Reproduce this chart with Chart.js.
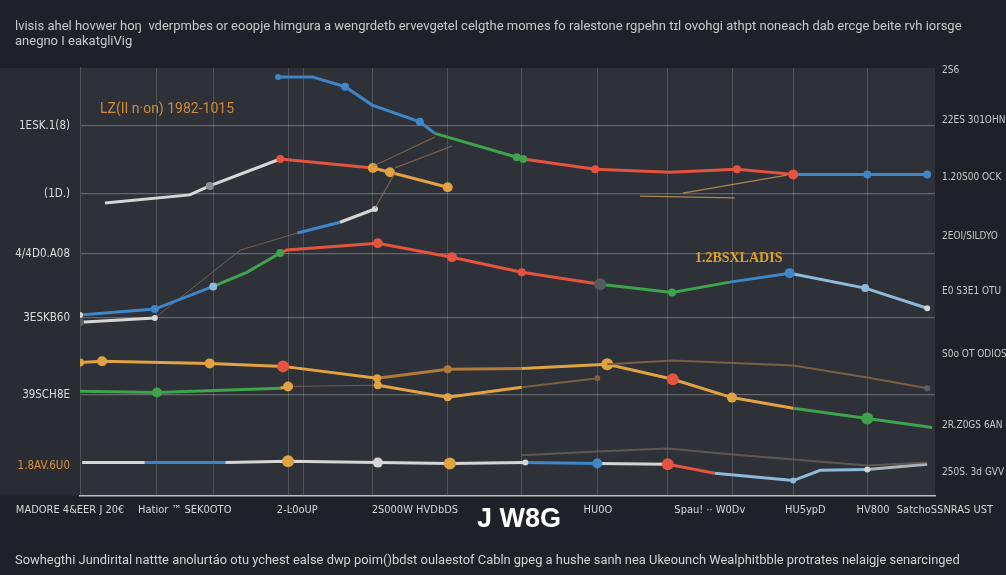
<!DOCTYPE html>
<html><head><meta charset="utf-8">
<script src="https://cdn.jsdelivr.net/npm/chart.js@4.4.1/dist/chart.umd.min.js"></script>
<style>html,body{margin:0;padding:0;background:#202128;}#wrap{width:1006px;height:575px;position:relative}</style>
</head><body><div id="wrap"><canvas id="c" width="1006" height="575"></canvas></div>
<script>
// ---- text ----
const titleLines = ["lvisis ahel hovwer hoŋ  vderpmbes or eoopje himgura a wengrdetb ervevgetel celgthe momes fo ralestone rgpehn tɪl ovohgi athpt noneach dab ercge beite rvh iorsge", "anegno I eakatgliVig"];
const footerText = "Sowhegthi Jundirital nattte anolurtáo otu ychest ealse dwp poim()bdst oulaestof Cabln gpeg a hushe sanh nea Ukeounch Wealphitbble protrates nelaigje senarcinged";
const noteLeft = "LZ(II n·on) 1982-1015";
const noteRight = "1.2BSXLADIS";
// ---- axes ----
const xTickValues = [0, 1.47, 3.05, 4.70, 6.16, 7.27, 8.84, 10.18, 11.13, 12];
const xTickLabels = ["MADORE 4&EER J 20€", "Hatior ™ SEK0OTO", "2-Ŀ0oUP", "2S000W HVDbDS", "J W8G", "HU0O", "Spau! ·· W0Dv", "HU5ypD", "HV800", "SatchoSSNRAS UST"];
const xGridValues = [1.08, 1.87, 2.92, 3.13, 4.11, 5.16, 6.20, 7.26, 8.25, 9.16, 10.01, 11.05];
const leftTickValues = [86.5, 70.5, 56.5, 41.5, 23.5, 7];
const leftTickLabels = ["1ESK.1(8)", "(1D.)", "4/4D0.A08", "3ESKB60", "39SCH8E", "1.8AV.6U0"];
const rightTickValues = [99.5, 87.8, 74.5, 60.7, 47.8, 33.0, 16.4, 5.4];
const rightTickLabels = ["2S6", "22ES 301OHN", "1.20S00 OCK", "2EOI/SILDYO", "E0 S3E1 OTU", "S0o OT ODIOS", "2R.Z0GS 6AN", "250S. 3d GVV"];
// ---- series ----
const aX = [2.78,3.26,3.72,4.10,4.77,4.98,6.13,6.22,7.23,8.28,9.22,10.01,11.05,11.89];
const aY = [97.9,97.9,95.6,91.3,87.4,84.7,79.1,78.7,76.3,75.6,76.3,75.1,75.1,75.1];
const bX = [0.35,1.54,1.82,2.81,4.11,4.35,5.16];
const bY = [68.4,70.3,72.4,78.7,76.6,75.6,72.1];
const cX = [0,1.05,1.87,2.34,2.81,2.90,4.18,5.22,6.20,7.30,8.31,9.12,9.96,11.02,11.89];
const cY = [42.2,43.6,48.9,52.2,56.7,57.4,59.0,55.7,52.2,49.4,47.5,49.9,52.0,48.5,43.8];
const dX = [0,1.05,2.25,3.05,3.65,4.14];
const dY = [40.5,41.5,57.4,61.4,63.9,67.0];
const eX = [0,0.31,1.82,2.85,4.17,5.16,6.20,7.40,8.32,9.15,10.01,11.05,11.96];
const eY = [31.1,31.4,30.9,30.2,27.4,29.5,29.7,30.7,27.2,22.9,20.4,18.0,15.9];
const fX = [7.40,8.32,10.01,11.05,11.89];
const fY = [30.7,31.6,30.4,27.6,25.1];
const gX = [0,1.08,2.81,2.92,4.18,5.16,6.20,7.26];
const gY = [24.4,24.1,25.1,25.5,25.8,23.0,25.3,27.4];
const hX = [0.03,0.91,2.04,2.92,4.18,5.19,6.25,7.26,8.25,8.91,10.01,10.39,11.05,11.89];
const hY = [7.7,7.7,7.7,8.0,7.7,7.5,7.7,7.5,7.3,5.2,3.5,5.9,6.1,7.3];
const iX = [6.20,7.26,8.25,9.16,11.05,11.89];
const iY = [9.4,10.3,11.0,9.6,7.0,7.7];
const jX = [4.11,4.98,4.6,4.42,5.22,5.3,4.14,4.42,6.5,8.46,9.92,9.95,7.86,9.19];
const jY = [77.0,83.8,null,76.6,81.7,null,67.2,75.4,null,70.7,74.9,null,70.0,69.6];

const B='#3f86c8', G='#3fa24c', R='#e5543f', O='#e0a243', W='#d6d6d6', LB='#8db9dc', BR='#7a6044', DK='rgba(140,115,90,0.7)', GR='#5a5f66', OB='#b07a3a';
const FONT = "'DejaVu Sans Condensed','Liberation Sans Narrow','Roboto',sans-serif";

function ds(xs, ys, seg, segW, pr, pc, baseW) {
  return {
    data: xs.map((x, i) => ({x, y: ys[i]})),
    borderColor: seg[0] || W,
    borderWidth: baseW || 3,
    pointRadius: pr,
    pointBackgroundColor: pc,
    pointBorderWidth: 0,
    pointHoverRadius: 0,
    spanGaps: false,
    tension: 0,
    segment: {
      borderColor: c => seg[c.p0DataIndex] || seg[0],
      borderWidth: c => (segW ? segW[c.p0DataIndex] : (baseW || 3))
    }
  };
}
const fill = (n, v) => Array(n).fill(v);

const datasets = [
  ds(iX, iY, fill(5, 'rgba(110,100,90,0.75)'), null, fill(6,0), fill(6,GR), 2),
  ds(jX, jY, [DK,DK,DK,DK,DK,DK,DK,DK,DK,'rgba(190,150,80,0.85)','rgba(190,150,80,0.85)','rgba(190,150,80,0.85)','rgba(190,150,80,0.85)'], null, fill(14,0), fill(14,DK), 1.3),
  ds(fX, fY, fill(4, BR), null, [0,0,0,0,3], fill(5, GR), 2),
  ds(aX, aY, [B,B,B,B,B,G,G,R,R,R,R,B,B], null, [3,0,4,0,4,0,4,4,4,0,4,5,4,4], [B,B,B,B,B,G,G,G,R,R,R,R,B,B]),
  ds(bX, bY, [W,W,W,R,O,O], null, [0,0,4,4,5,5,5], [W,W,'#8a8f96',R,O,O,O]),
  ds(cX, cY, [B,B,G,G,R,R,R,R,R,G,G,B,LB,LB], null, [3,4,4,0,4,0,5,5,4,6,4,0,5,4,3], [W,B,LB,G,G,R,R,R,R,'#555a60',G,B,B,LB,W]),
  ds(dX, dY, [W,DK,DK,B,W], [3,1,1,3,3], [4,3,0,0,0,3], [GR,W,W,B,B,W]),
  ds(gX, gY, [G,G,O,DK,O,O,BR], [3,3,3,1,3,3,2], [0,5,0,5,4,4,0,3], [G,G,G,O,O,O,O,BR]),
  ds(eX, eY, [O,O,O,O,OB,OB,O,O,O,O,G,G], null, [4,5,5,6,4,4,0,6,6,5,0,6,0], [O,O,O,R,O,OB,O,O,R,O,G,G,G]),
  ds(hX, hY, [W,B,W,W,W,W,B,W,R,LB,LB,LB,'#a9b4bd'], null, [0,0,0,6,5,6,3,5,6,0,3,0,3,0], [W,W,W,O,W,O,W,B,R,LB,LB,LB,W,W])
];

const bgPlugin = {
  id: 'bg',
  beforeDraw(chart) {
    const {ctx, chartArea: a} = chart;
    ctx.save();
    ctx.fillStyle = '#202128';
    ctx.fillRect(0, 0, chart.width, chart.height);
    ctx.fillStyle = '#2a2c33';
    ctx.fillRect(0, a.top, a.right, a.bottom - a.top);
    ctx.fillStyle = '#2e3138';
    ctx.fillRect(a.left, a.top, a.right - a.left, a.bottom - a.top);
    ctx.restore();
  },
  afterDatasetsDraw(chart) {
    const {ctx, scales} = chart;
    ctx.save();
    ctx.textBaseline = 'middle';
    ctx.textAlign = 'left';
    ctx.fillStyle = '#d08a3a';
    ctx.font = "14px 'Roboto',sans-serif";
    ctx.fillText(noteLeft, scales.x.getPixelForValue(0.28), scales.y.getPixelForValue(90.2));
    ctx.fillStyle = '#d9a030';
    ctx.font = "bold 14px 'Liberation Serif',serif";
    ctx.fillText(noteRight, scales.x.getPixelForValue(8.63), scales.y.getPixelForValue(55.5));
    ctx.restore();
  }
};

new Chart(document.getElementById('c'), {
  type: 'line',
  data: { datasets },
  plugins: [bgPlugin],
  options: {
    responsive: false,
    animation: false,
    events: [],
    layout: { padding: { left: 15, right: 0, top: 0, bottom: 0 } },
    plugins: {
      legend: { display: false },
      tooltip: { enabled: false },
      title: { display: true, text: titleLines, align: 'start', color: '#c8c8c8',
        font: { size: 13, family: "'Roboto',sans-serif", weight: 'normal', lineHeight: 1.15 }, padding: { top: 19, bottom: 19 } },
      subtitle: { display: true, text: footerText, position: 'bottom', align: 'start', color: '#d2d2d2',
        font: { size: 12.9, family: "'Roboto',sans-serif", weight: 'normal', lineHeight: 1.2 }, padding: { top: 8, bottom: 6 } }
    },
    scales: {
      x: {
        type: 'linear', min: 0, max: 12, position: 'bottom', weight: 0,
        afterBuildTicks: s => { s.ticks = xGridValues.map(v => ({ value: v })); },
        afterFit: s => { s.height = 0; },
        ticks: { display: false },
        grid: { color: 'rgba(215,215,215,0.2)', lineWidth: 1, drawTicks: false, tickBorderDash: [] },
        border: { display: true, color: 'rgba(225,225,225,0.8)', width: 1.5 }
      },
      xl: {
        type: 'linear', min: 0, max: 12, position: 'bottom', weight: 1,
        afterBuildTicks: s => { s.ticks = xTickValues.map(v => ({ value: v })); },
        afterFit: s => { s.height = 50; },
        grid: { display: false, drawTicks: false },
        border: { display: false },
        ticks: {
          autoSkip: false, maxRotation: 0, padding: 8,
          callback: (v, i) => (i === 0 ? xTickLabels[i] + '\u2003\u2003' : (i === xTickLabels.length - 1 ? '\u2003\u2003' + xTickLabels[i] : xTickLabels[i])),
          color: c => (xTickLabels[c.index] === 'J W8G' ? '#ffffff' : '#d6d6d6'),
          font: c => (xTickLabels[c.index] === 'J W8G' ? { size: 27, weight: 'bold', family: "'Liberation Sans','DejaVu Sans',sans-serif" } : { size: 11, family: FONT })
        }
      },
      y: {
        type: 'linear', min: 0, max: 100, position: 'left',
        afterBuildTicks: s => { s.ticks = leftTickValues.map(v => ({ value: v })); },
        afterFit: s => { s.width = 65; },
        ticks: {
          padding: 10, autoSkip: false,
          callback: (v, i) => leftTickLabels[i],
          color: c => (c.index === leftTickLabels.length - 1 ? '#d8913f' : '#dcdcdc'),
          font: { size: 11.5, family: FONT }
        },
        grid: { color: c => (c.index === leftTickValues.length - 1 ? 'rgba(0,0,0,0)' : 'rgba(215,215,215,0.32)'), lineWidth: 1.2, drawTicks: false },
        border: { display: true, color: 'rgba(200,200,200,0.22)' }
      },
      y2: {
        type: 'linear', min: 0, max: 100, position: 'right',
        afterBuildTicks: s => { s.ticks = rightTickValues.map(v => ({ value: v })); },
        afterFit: s => { s.width = 71; },
        ticks: {
          padding: 7, autoSkip: false,
          callback: (v, i) => rightTickLabels[i],
          color: '#c8c8c8',
          font: { size: 10, family: FONT }
        },
        grid: { display: false, drawTicks: false },
        border: { display: false }
      }
    }
  }
});
</script>
</body></html>
